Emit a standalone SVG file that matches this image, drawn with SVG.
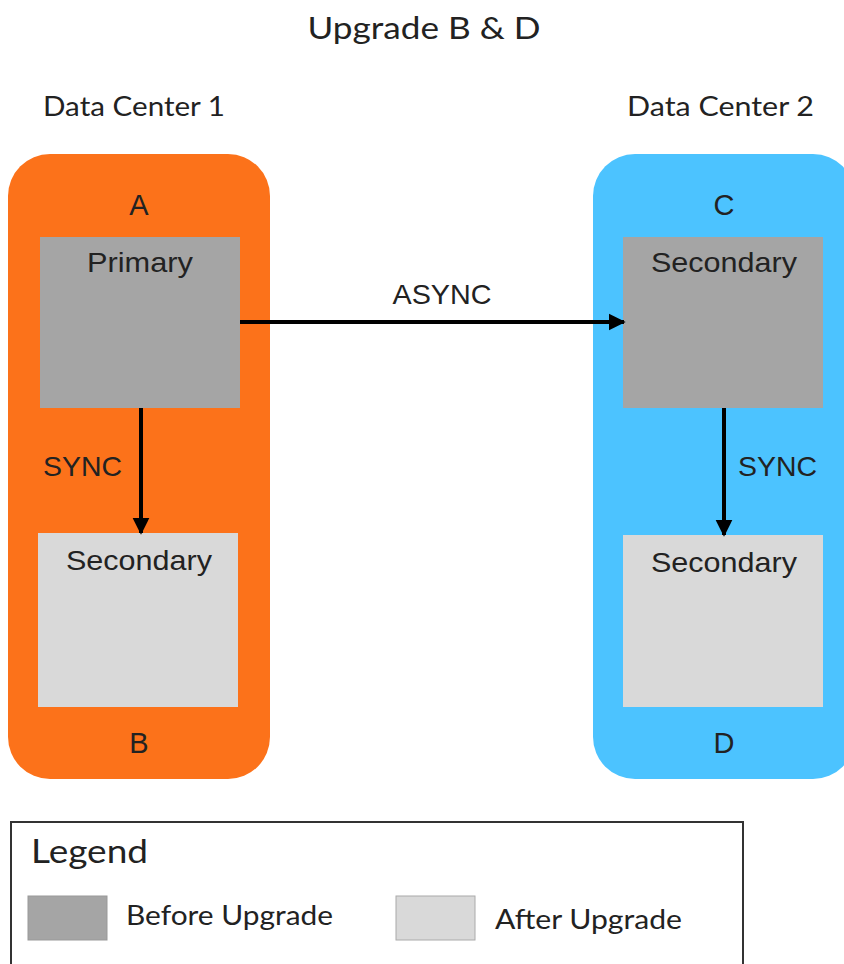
<svg xmlns="http://www.w3.org/2000/svg" width="844" height="964" viewBox="0 0 844 964">
<defs>
<marker id="ah" viewBox="0 0 10 10" refX="9" refY="5" markerWidth="4.2" markerHeight="4.5" markerUnits="strokeWidth" orient="auto">
<path d="M0,0 L10,5 L0,10 z" fill="#000"/>
</marker>
<style>
.lato{font-family:Lato,"Liberation Sans",sans-serif;fill:#222;}
.ar{font-family:"Liberation Sans",Arial,sans-serif;fill:#222;}
.dc1{fill:#FC721A;}
.dc2{fill:#4CC3FF;}
.before{fill:#A5A5A5;}
.after{fill:#D9D9D9;}
.conn{stroke:#000;stroke-width:4;fill:none;marker-end:url(#ah);}
</style>
</defs>
<rect width="844" height="964" fill="#fff"/>
<text class="lato" x="424" y="39" font-size="31" text-anchor="middle" textLength="233" lengthAdjust="spacingAndGlyphs">Upgrade B &amp; D</text>
<text class="lato" x="43" y="116" font-size="27" textLength="182" lengthAdjust="spacingAndGlyphs">Data Center 1</text>
<text class="lato" x="627" y="116" font-size="27" textLength="187" lengthAdjust="spacingAndGlyphs">Data Center 2</text>
<g id="dc1">
<rect class="dc1" x="8" y="154" width="262" height="625" rx="42" ry="42"/>
</g>
<g id="dc2">
<rect class="dc2" x="593" y="154" width="262" height="625" rx="42" ry="42"/>
</g>
<g id="label-A"><text class="ar" x="139" y="215" font-size="29" text-anchor="middle">A</text></g>
<g id="label-B"><text class="ar" x="139" y="753" font-size="29" text-anchor="middle">B</text></g>
<g id="label-C"><text class="ar" x="724" y="215" font-size="29" text-anchor="middle">C</text></g>
<g id="label-D"><text class="ar" x="724" y="753" font-size="29" text-anchor="middle">D</text></g>
<g id="nodeA">
<rect class="before" x="40" y="237" width="200" height="171"/>
<text class="ar" x="140" y="272" font-size="28" text-anchor="middle" textLength="106" lengthAdjust="spacingAndGlyphs">Primary</text>
</g>
<g id="nodeB">
<rect class="after" x="38" y="533" width="200" height="174"/>
<text class="ar" x="139" y="570" font-size="28" text-anchor="middle" textLength="146" lengthAdjust="spacingAndGlyphs">Secondary</text>
</g>
<g id="nodeC">
<rect class="before" x="623" y="237" width="200" height="171"/>
<text class="ar" x="724" y="272" font-size="28" text-anchor="middle" textLength="146" lengthAdjust="spacingAndGlyphs">Secondary</text>
</g>
<g id="nodeD">
<rect class="after" x="623" y="535" width="200" height="172"/>
<text class="ar" x="724" y="572" font-size="28" text-anchor="middle" textLength="146" lengthAdjust="spacingAndGlyphs">Secondary</text>
</g>
<g id="connectors">
<line class="conn" x1="240" y1="322" x2="624" y2="322"/>
<line class="conn" x1="141" y1="408" x2="141" y2="533"/>
<line class="conn" x1="724" y1="408" x2="724" y2="535"/>
<text class="ar" x="442" y="304" font-size="28" text-anchor="middle" textLength="99" lengthAdjust="spacingAndGlyphs">ASYNC</text>
<text class="ar" x="43" y="476" font-size="28" textLength="79" lengthAdjust="spacingAndGlyphs">SYNC</text>
<text class="ar" x="738" y="476" font-size="28" textLength="79" lengthAdjust="spacingAndGlyphs">SYNC</text>
</g>
<g id="legend">
<rect x="11" y="822" width="732" height="160" fill="#fff" stroke="#333" stroke-width="2"/>
<text class="lato" x="31" y="863" font-size="33" textLength="117" lengthAdjust="spacingAndGlyphs">Legend</text>
<rect class="before" x="28" y="896" width="79" height="44" stroke="#999" stroke-width="1"/>
<text class="lato" x="126" y="925" font-size="27" textLength="207" lengthAdjust="spacingAndGlyphs">Before Upgrade</text>
<rect class="after" x="396" y="896" width="79" height="44" stroke="#aaa" stroke-width="1"/>
<text class="lato" x="495" y="929" font-size="27" textLength="187" lengthAdjust="spacingAndGlyphs">After Upgrade</text>
</g>
</svg>
